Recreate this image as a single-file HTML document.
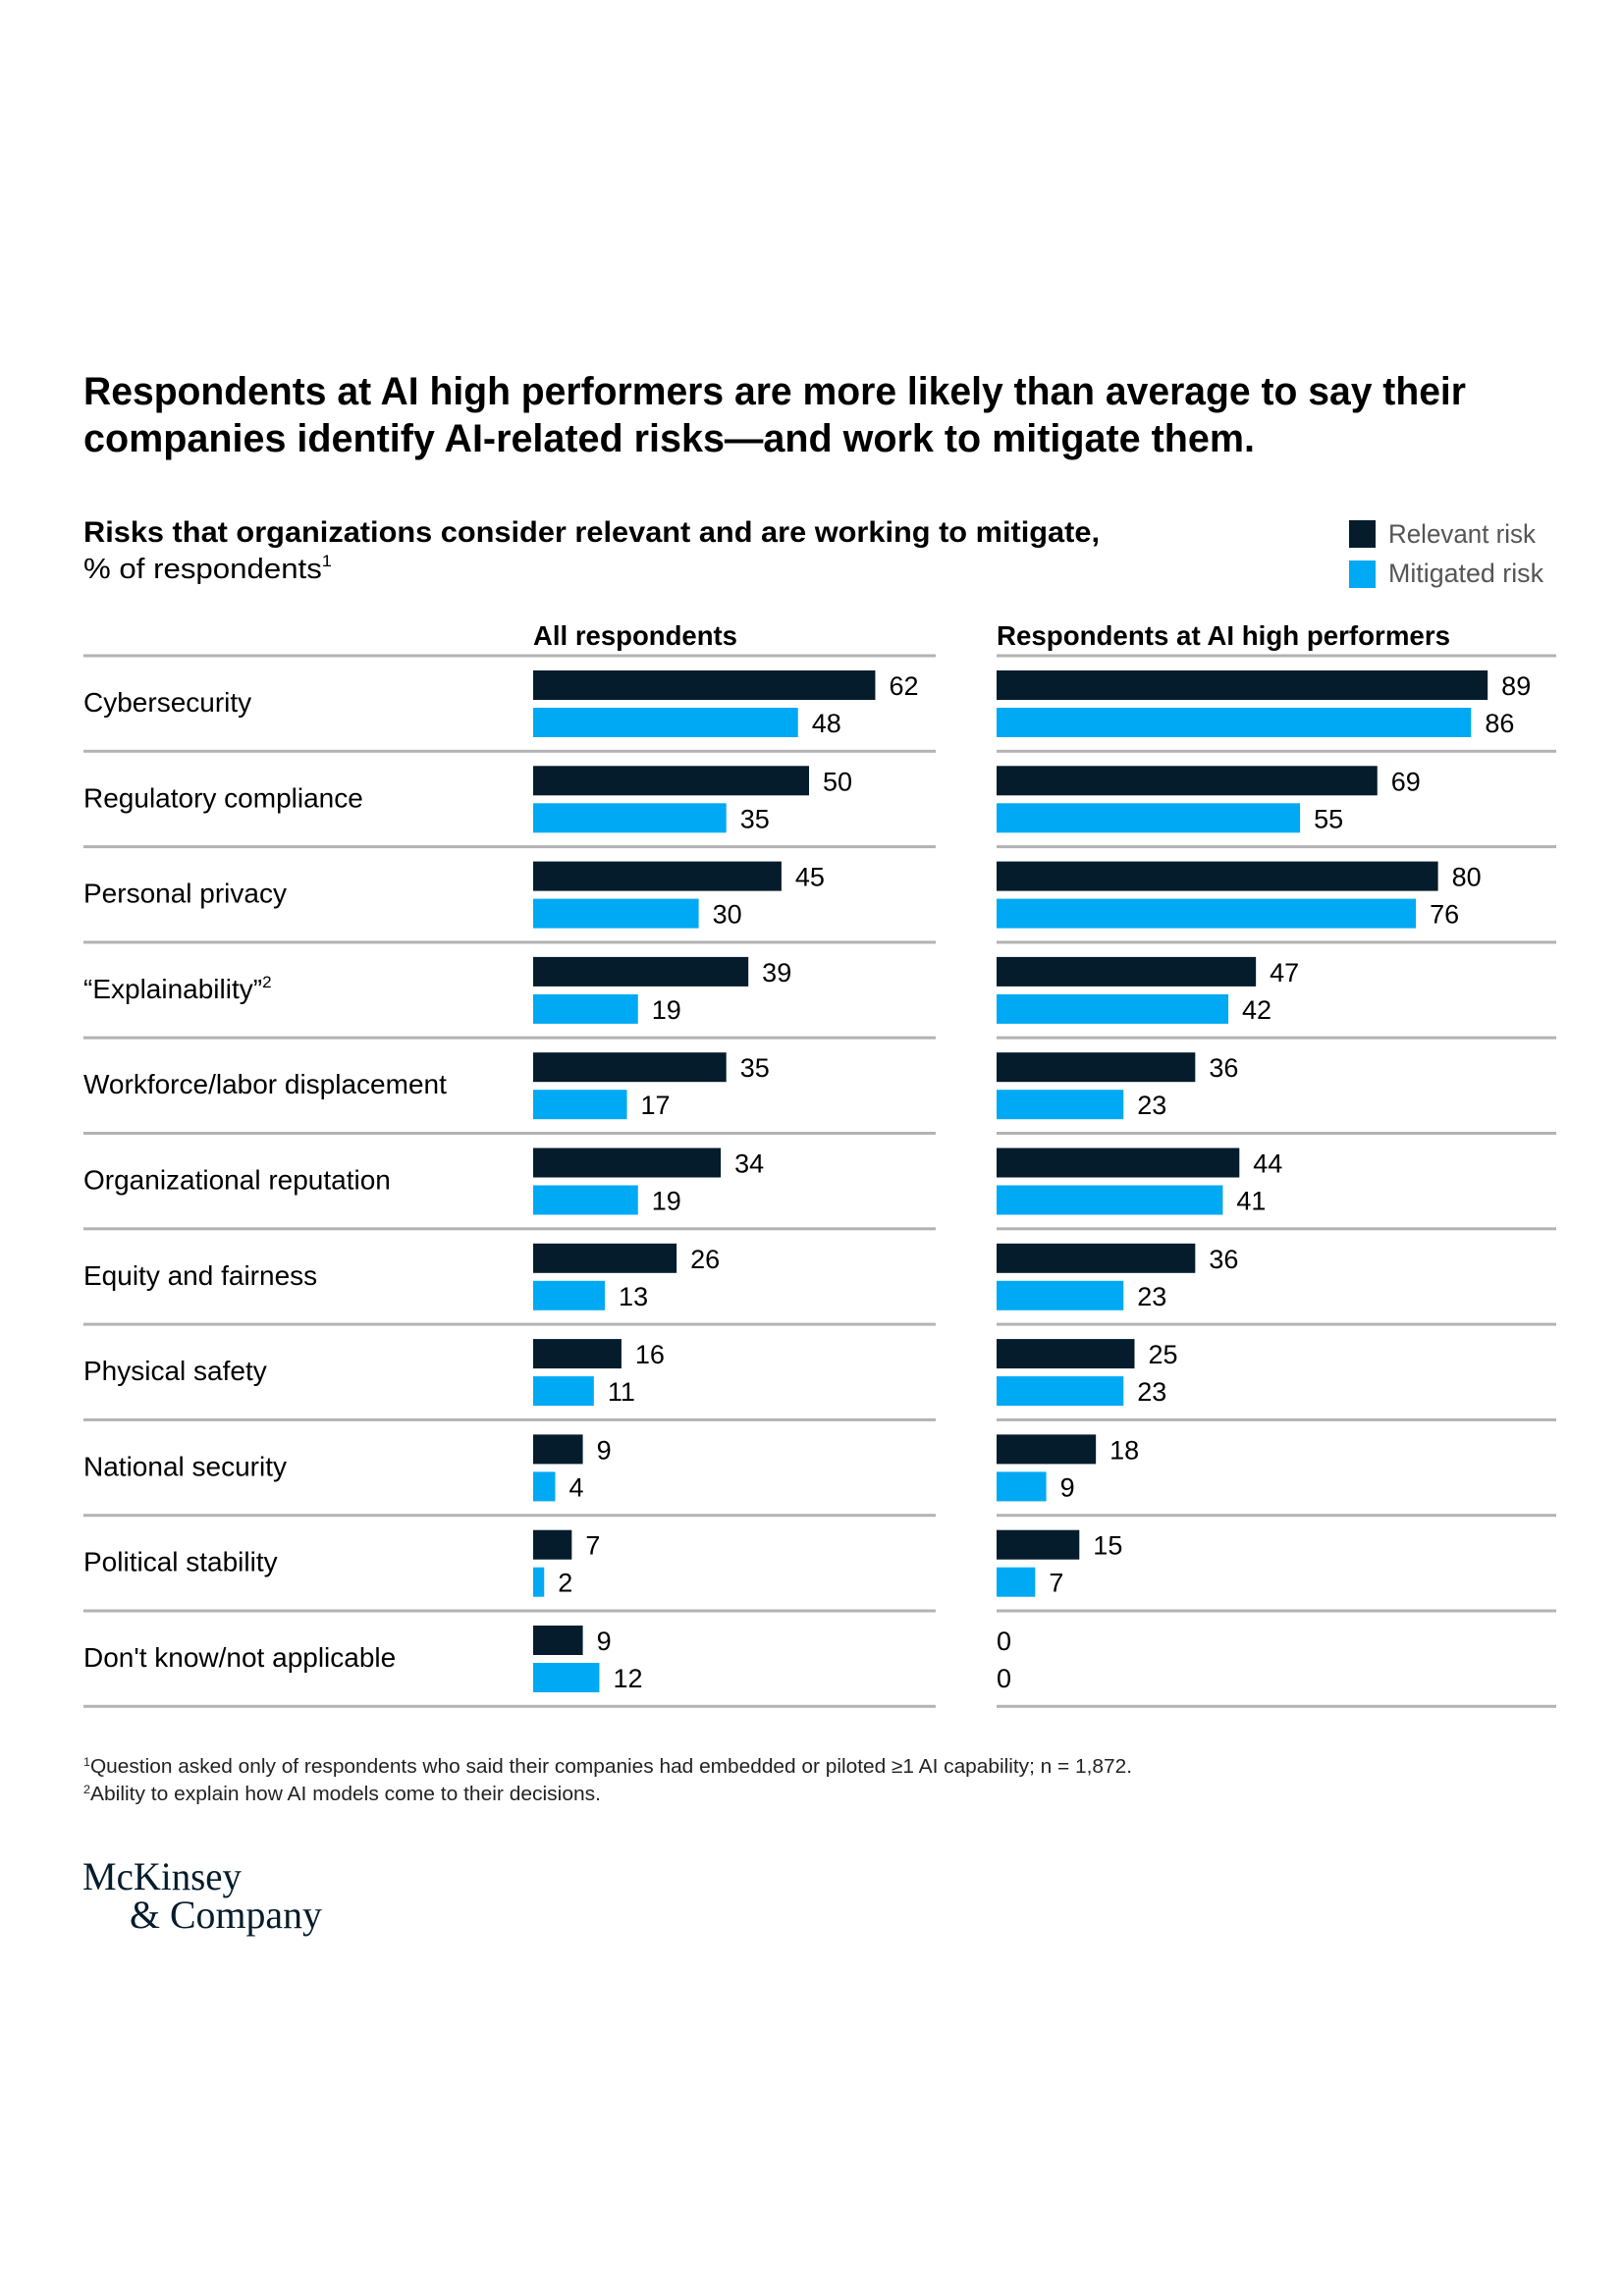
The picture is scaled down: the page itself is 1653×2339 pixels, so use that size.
<!DOCTYPE html>
<html><head><meta charset="utf-8"><style>
html,body{margin:0;padding:0;background:#fff;}
svg{display:block;font-family:"Liberation Sans",sans-serif;}
</style></head><body>
<svg id="chart" width="1653" height="2339" viewBox="0 0 1653 2339" xmlns="http://www.w3.org/2000/svg">
<text x="85" y="412" font-size="40" font-weight="bold" fill="#000" textLength="1408" lengthAdjust="spacingAndGlyphs">Respondents at AI high performers are more likely than average to say their</text>
<text x="85" y="460" font-size="40" font-weight="bold" fill="#000" textLength="1193" lengthAdjust="spacingAndGlyphs">companies identify AI-related risks—and work to mitigate them.</text>
<text x="85" y="552" font-size="30" font-weight="bold" fill="#000" textLength="1035" lengthAdjust="spacingAndGlyphs">Risks that organizations consider relevant and are working to mitigate,</text>
<text x="85" y="589" font-size="29" fill="#000" textLength="253" lengthAdjust="spacingAndGlyphs">% of respondents<tspan font-size="17" dy="-12">1</tspan></text>
<g>
<rect x="1374" y="530" width="27" height="28" fill="#051c2c"/>
<text x="1414" y="553" font-size="27" fill="#555" textLength="150" lengthAdjust="spacingAndGlyphs">Relevant risk</text>
<rect x="1374" y="571" width="27" height="28" fill="#00a9f4"/>
<text x="1414" y="593" font-size="27" fill="#555" textLength="158" lengthAdjust="spacingAndGlyphs">Mitigated risk</text>
</g>
<text x="543" y="657" font-size="28" font-weight="bold" fill="#000" textLength="208" lengthAdjust="spacingAndGlyphs">All respondents</text>
<text x="1015" y="657" font-size="28" font-weight="bold" fill="#000" textLength="462" lengthAdjust="spacingAndGlyphs">Respondents at AI high performers</text>
<g id="plot"></g>
<text x="85" y="1806" font-size="20" fill="#222" textLength="1068" lengthAdjust="spacingAndGlyphs"><tspan font-size="12" dy="-7">1</tspan><tspan dy="7">Question asked only of respondents who said their companies had embedded or piloted ≥1 AI capability; n = 1,872.</tspan></text>
<text x="85" y="1834" font-size="20" fill="#222" textLength="527" lengthAdjust="spacingAndGlyphs"><tspan font-size="12" dy="-7">2</tspan><tspan dy="7">Ability to explain how AI models come to their decisions.</tspan></text>
<text x="84" y="1925" font-family="Liberation Serif,serif" font-size="40" fill="#051c2c" textLength="162" lengthAdjust="spacingAndGlyphs">McKinsey</text>
<text x="132" y="1964" font-family="Liberation Serif,serif" font-size="40" fill="#051c2c" textLength="196" lengthAdjust="spacingAndGlyphs">&amp; Company</text>
</svg>
<script>
const categories = ["Cybersecurity","Regulatory compliance","Personal privacy","\u201cExplainability\u201d","Workforce/labor displacement","Organizational reputation","Equity and fairness","Physical safety","National security","Political stability","Don't know/not applicable"];
const allRelevant = [62,50,45,39,35,34,26,16,9,7,9];
const allMitigated = [48,35,30,19,17,19,13,11,4,2,12];
const highRelevant = [89,69,80,47,36,44,36,25,18,15,0];
const highMitigated = [86,55,76,42,23,41,23,23,9,7,0];

const NS = "http://www.w3.org/2000/svg";
const plot = document.getElementById('plot');
const rule0 = 668, pitch = 97.3, pxPerUnit = 5.62;
const panels = [
  {x0:543, ruleX1:85, ruleX2:953, rel:allRelevant, mit:allMitigated, key:'all'},
  {x0:1015, ruleX1:1015, ruleX2:1585, rel:highRelevant, mit:highMitigated, key:'high'}
];
function xScale(v){ return v * pxPerUnit; }
function rowY(i){ return rule0 + i * pitch; }
function mk(tag, attrs){ const e = document.createElementNS(NS, tag); for (const k in attrs) e.setAttribute(k, attrs[k]); plot.appendChild(e); return e; }

categories.forEach((c, i) => {
  const t = mk('text', {x:85, y:rowY(i)+57, 'font-size':28, fill:'#000'});
  
  
  t.textContent = c;
  if (i === 3) { const s = document.createElementNS(NS,'tspan'); s.setAttribute('font-size','17'); s.setAttribute('dy','-11'); s.textContent='2'; t.appendChild(s); }
});
panels.forEach(p => {
  for (let i = 0; i <= categories.length; i++) {
    const r = mk('rect', {x:p.ruleX1, y:rowY(i)-1.5, width:p.ruleX2-p.ruleX1, height:3, fill:'#b3b3b3'});
    
    
  }
  categories.forEach((c, i) => {
    [[p.rel, '#051c2c', 15, 'relevant'], [p.mit, '#00a9f4', 53, 'mitigated']].forEach(([arr, col, off, nm]) => {
      const v = arr[i], w = xScale(v), y = rowY(i) + off;
      if (v > 0) {
        const b = mk('rect', {x:p.x0, y:y, width:w, height:30, fill:col});
        
        
      }
      const t = mk('text', {x:p.x0 + w + (v > 0 ? 14 : 0), y:y+25, 'font-size':27, fill:'#000'});
      
      
      t.textContent = v;
    });
  });
});
</script>
</body></html>
